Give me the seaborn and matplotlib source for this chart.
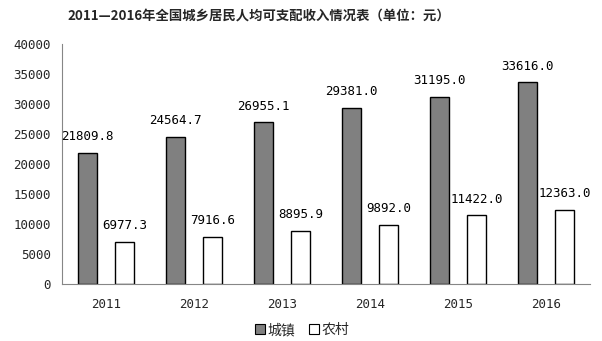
import matplotlib
matplotlib.use("Agg")
import matplotlib.pyplot as plt
from matplotlib.ticker import FixedLocator
from matplotlib.patches import Patch
import seaborn as sns
import pandas as pd

# Per-capita disposable income, urban vs rural, 2011-2016 (yuan)
years = ["2011", "2012", "2013", "2014", "2015", "2016"]
urban = [21809.8, 24564.7, 26955.1, 29381.0, 31195.0, 33616.0]
rural = [6977.3, 7916.6, 8895.9, 9892.0, 11422.0, 12363.0]
series_names = ["城镇", "农村"]
y_ticks = [0, 5000, 10000, 15000, 20000, 25000, 30000, 35000, 40000]
title = "2011—2016年全国城乡居民人均可支配收入情况表（单位：元）"

sns.set_theme(style="white")
plt.rcParams["font.family"] = ["Noto Sans CJK SC", "DejaVu Sans"]

df = pd.DataFrame({
    "year": years * 2,
    "value": urban + rural,
    "kind": [series_names[0]] * len(years) + [series_names[1]] * len(years),
})

fig = plt.figure(figsize=(6.02, 3.41), dpi=100)
ax = fig.add_axes([62 / 602, 57 / 341, 528 / 602, 240 / 341])

palette = {series_names[0]: "#808080", series_names[1]: "#ffffff"}
sns.barplot(data=df, x="year", y="value", hue="kind", order=years,
            hue_order=series_names, palette=palette, width=0.84, gap=0.46,
            edgecolor="black", linewidth=1.0, saturation=1, legend=False, ax=ax)

mono = "DejaVu Sans Mono"
for cont in ax.containers:
    labels = [f"{v:.1f}" for v in cont.datavalues]
    ax.bar_label(cont, labels=labels, padding=7, fontsize=9, family=mono,
                 color="black")

ax.set_xlim(-0.5, len(years) - 0.5)
ax.set_ylim(0, 40000)
ax.set_yticks(y_ticks)
ax.set_yticklabels([str(t) for t in y_ticks], family=mono, fontsize=9)
ax.set_xticks(range(len(years)))
ax.set_xticklabels(years, family=mono, fontsize=9)
ax.xaxis.set_minor_locator(FixedLocator([i - 0.5 for i in range(len(years) + 1)]))
ax.tick_params(axis="x", which="major", length=0, pad=10)
ax.tick_params(axis="x", which="minor", direction="in", length=5,
               color="#868686", width=0.8)
ax.tick_params(axis="y", which="major", direction="out", length=4,
               color="#868686", width=0.8, pad=4)
ax.set_xlabel("")
ax.set_ylabel("")
for side in ["top", "right"]:
    ax.spines[side].set_visible(False)
for side in ["left", "bottom"]:
    ax.spines[side].set_color("#868686")
    ax.spines[side].set_linewidth(0.8)

handles = [Patch(facecolor=palette[n], edgecolor="black", linewidth=0.8, label=n)
           for n in series_names]
fig.legend(handles=handles, loc="center", bbox_to_anchor=(302 / 602, 1 - 330 / 341),
           ncol=2, frameon=False, fontsize=10, handlelength=0.7, handleheight=0.7,
           handletextpad=0.2, columnspacing=1.0)

fig.text(259 / 602, 1 - 16 / 341, title, ha="center", va="center",
         fontsize=9.6, fontweight="bold")

fig.savefig("out.png", dpi=100)
